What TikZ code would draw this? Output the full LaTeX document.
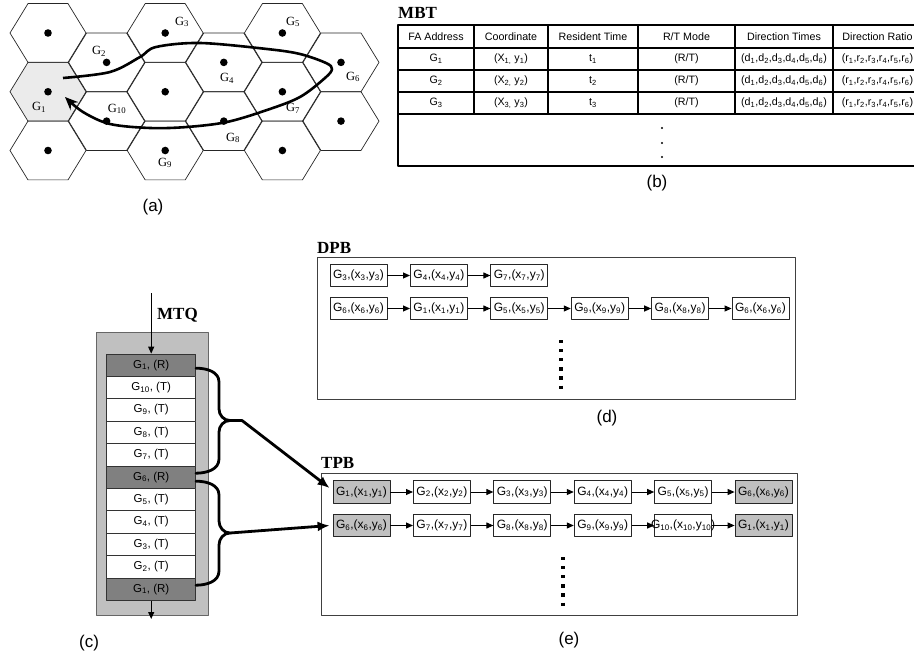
\documentclass[tikz,border=0pt]{standalone}
\usepackage{fontspec}
\setmainfont{Liberation Sans}
\newfontfamily\serifrm{Liberation Serif}
\usetikzlibrary{arrows.meta,positioning}
\definecolor{cellgray}{HTML}{808080}
\definecolor{boxgray}{HTML}{C0C0C0}
\definecolor{hexgray}{HTML}{EBEBEB}
\newcommand{\sbs}[1]{\textsubscript{#1}}
\newcommand{\gxy}[1]{G\sbs{#1},(x\sbs{#1},y\sbs{#1})}
\newcommand{\fsz}[1]{\fontsize{#1}{#1}\selectfont}
\newcommand{\dlist}{(d\sbs{1},d\sbs{2},d\sbs{3},d\sbs{4},d\sbs{5},d\sbs{6})}
\newcommand{\rlist}{(r\sbs{1},r\sbs{2},r\sbs{3},r\sbs{4},r\sbs{5},r\sbs{6})}
\tikzset{
  hexedge/.style={draw=black!85, line width=0.7pt},
  hexlab/.style={font=\serifrm\fsz{12.5}, inner sep=0pt},
  tag/.style={font=\serifrm\bfseries\fsz{17}, anchor=west, inner sep=0pt},
  captext/.style={font=\fsz{17}, inner sep=0pt},
  tcell/.style={font=\fsz{10.7}, inner sep=0pt},
  qcell/.style={draw=black!80, line width=0.7pt, fill=white, minimum width=89pt,
    minimum height=22.4pt, inner sep=0pt, font=\fsz{11.5}},
  pbox/.style={draw=black!85, line width=0.8pt, fill=white, minimum width=57pt,
    minimum height=22.5pt, inner sep=0pt, font=\fsz{12}},
  parrow/.style={line width=1pt, -{Triangle[length=7pt,width=6pt]}},
  qarrow/.style={line width=1.1pt, -{Triangle[length=7pt,width=6pt]}},
  qbrace/.style={line width=2.8pt, line cap=round, line join=round},
  bigarrow/.style={line width=2.8pt, -{Latex[length=12pt,width=10pt]}},
  vdots/.style={line width=3.2pt, dash pattern=on 3.2pt off 5.9pt},
}
\begin{document}
\begin{tikzpicture}[x=1pt, y=-1pt, line join=round]
\useasboundingbox (0,0) rectangle (914,666);

% (a) cells and path of the mobile node
\fill[hexgray, shift={(48,91.75)}] (-38,0) -- (-20,-29.4) -- (20,-29.4) -- (38,0) -- (20,29.4) -- (-20,29.4) -- cycle;
\foreach \hx in {48,165.2,282.4} \foreach \hy in {33,91.75,150.5} {
  \draw[hexedge, shift={(\hx,\hy)}] (-38,0) -- (-20,-29.4) -- (20,-29.4) -- (38,0) -- (20,29.4) -- (-20,29.4) -- cycle;
  \fill (\hx,\hy) circle (3.8pt);
}
\foreach \hx in {106.6,223.8,341} \foreach \hy in {62.4,121.1} {
  \draw[hexedge, shift={(\hx,\hy)}] (-38,0) -- (-20,-29.4) -- (20,-29.4) -- (38,0) -- (20,29.4) -- (-20,29.4) -- cycle;
  \fill (\hx,\hy) circle (3.8pt);
}
\draw[line width=2.6pt, -{Stealth[length=13pt,width=11pt]}] plot[smooth, tension=0.55] coordinates
  {(63,78) (110,72) (140,57) (156,47) (200,43) (267,49) (300,54) (326,63) (332,69) (325,78)
   (300,97) (267,110) (227,122) (187,127) (150,128) (110,124) (83,112) (65,97)};
\node[hexlab] (lg1) at (39,107) {G\sbs{1}};
\node[hexlab] (lg2) at (99,51) {G\sbs{2}};
\node[hexlab] (lg3) at (182,22) {G\sbs{3}};
\node[hexlab] (lg4) at (227,78) {G\sbs{4}};
\node[hexlab] (lg5) at (293,22) {G\sbs{5}};
\node[hexlab] (lg6) at (353,77) {G\sbs{6}};
\node[hexlab] (lg7) at (293,108) {G\sbs{7}};
\node[hexlab] (lg8) at (233,138) {G\sbs{8}};
\node[hexlab] (lg9) at (165,163) {G\sbs{9}};
\node[hexlab] (lg10) at (117,109) {G\sbs{10}};
\node[captext] (capa) at (153,207) {(a)};

% (b) MBT
\node[tag] (mbt) at (398,13) {MBT};
\draw[line width=2.5pt] (398,25) rectangle (926,166);
\foreach \ty in {48,70,92} \draw[line width=1.2pt] (398,\ty) -- (926,\ty);
\draw[line width=1.6pt] (398,114) -- (926,114);
\foreach \tx in {474,548,638,735,833} \draw[line width=1.2pt] (\tx,25) -- (\tx,114);
\foreach \tx/\txt [count=\i] in {436/FA Address, 511/Coordinate, 593/Resident Time,
    686.5/{R/T Mode}, 784/Direction Times, 877.5/Direction Ratio}
  \node[tcell] (th\i) at (\tx,36.5) {\txt};
\foreach \k/\ty in {1/59,2/81,3/103} {
  \node[tcell] (ta\k) at (436,\ty) {G\sbs{\k}};
  \node[tcell] (tb\k) at (511,\ty) {(X\sbs{\k,} y\sbs{\k})};
  \node[tcell] (tc\k) at (593,\ty) {t\sbs{\k}};
  \node[tcell] (td\k) at (686.5,\ty) {(R/T)};
  \node[tcell] (te\k) at (784,\ty) {\dlist};
  \node[tcell] (tf\k) at (877.5,\ty) {\rlist};
}
\foreach \ty in {128,143,157} \fill (662,\ty) circle (1.1pt);
\node[captext] (capb) at (657,183) {(b)};

% (c) MTQ
\draw[draw=black!60, line width=0.7pt, fill=boxgray] (96,332) rectangle (208,615);
\node[tag] (mtq) at (157,315) {MTQ};
\foreach \lab/\fc [count=\i] in {{G\sbs{1}, (R)}/cellgray, {G\sbs{10}, (T)}/white,
    {G\sbs{9}, (T)}/white, {G\sbs{8}, (T)}/white, {G\sbs{7}, (T)}/white,
    {G\sbs{6}, (R)}/cellgray, {G\sbs{5}, (T)}/white, {G\sbs{4}, (T)}/white,
    {G\sbs{3}, (T)}/white, {G\sbs{2}, (T)}/white, {G\sbs{1}, (R)}/cellgray}
  \node[qcell, fill=\fc] (c\i) at (151.2,{365.2+(\i-1)*22.4}) {\lab};
\coordinate (qin) at (151.2,293);
\coordinate (qout) at (151.2,619);
\draw[qarrow] (qin) -- (c1.north);
\draw[qarrow] (c11.south) -- (qout);
\coordinate (t1) at (230,420.5);
\coordinate (t2) at (230,533);
\draw[qbrace] ([yshift=-3pt]c1.east) to[out=0,in=90] (219,382) -- (219,409)
  to[out=-90,in=180] (t1) to[out=180,in=90] (219,432) -- (219,459)
  to[out=-90,in=0] ([yshift=4pt]c6.east);
\draw[qbrace] ([yshift=-4pt]c6.east) to[out=0,in=90] (219,495) -- (219,521)
  to[out=-90,in=180] (t2) to[out=180,in=90] (219,545) -- (219,571)
  to[out=-90,in=0] ([yshift=4pt]c11.east);
\node[captext] (capc) at (89,643) {(c)};

% (d) DPB
\node[tag] (dpb) at (317,248) {DPB};
\draw[draw=black!75, line width=0.8pt] (317,257) rectangle (795,399);
\node[pbox] (da1) at (358.5,275.5) {\gxy{3}};
\node[pbox, right=22.6pt of da1] (da2) {\gxy{4}};
\node[pbox, right=22.6pt of da2] (da3) {\gxy{7}};
\draw[parrow] (da1) -- (da2);
\draw[parrow] (da2) -- (da3);
\node[pbox] (db1) at (358.5,308.5) {\gxy{6}};
\foreach \g [count=\i from 2] in {1,5,9,8,6} {
  \pgfmathtruncatemacro{\j}{\i-1}
  \node[pbox, right=22.6pt of db\j] (db\i) {\gxy{\g}};
  \draw[parrow] (db\j) -- (db\i);
}
\draw[vdots] (561,340) -- (561,390);
\node[captext] (capd) at (607,418) {(d)};

% (e) TPB
\node[tag] (tpb) at (321,463) {TPB};
\draw[draw=black!75, line width=0.8pt] (321,473) rectangle (797,615);
\node[pbox, fill=boxgray] (ea1) at (361.5,492) {\gxy{1}};
\foreach \g/\fc [count=\i from 2] in {2/white,3/white,4/white,5/white,6/boxgray} {
  \pgfmathtruncatemacro{\j}{\i-1}
  \node[pbox, fill=\fc, right=22.6pt of ea\j] (ea\i) {\gxy{\g}};
  \draw[parrow] (ea\j) -- (ea\i);
}
\node[pbox, fill=boxgray] (eb1) at (361.5,525.5) {\gxy{6}};
\node[pbox, right=22.6pt of eb1] (eb2) {\gxy{7}};
\node[pbox, right=22.6pt of eb2] (eb3) {\gxy{8}};
\node[pbox, right=22.6pt of eb3] (eb4) {\gxy{9}};
\node[pbox, right=22.6pt of eb4] (eb5) {\makebox[57pt]{\gxy{10}}};
\node[pbox, fill=boxgray, right=22.6pt of eb5] (eb6) {\gxy{1}};
\foreach \j/\i in {1/2,2/3,3/4,4/5,5/6} \draw[parrow] (eb\j) -- (eb\i);
\draw[vdots] (563,557) -- (563,607);
\node[captext] (cape) at (569,640) {(e)};

% braces into TPB
\draw[bigarrow] (t1) -- ++(12,0) -- ([shift={(-3,-4)}]ea1.west);
\draw[bigarrow] (t2) -- ([xshift=-3pt]eb1.west);
\end{tikzpicture}
\end{document}
